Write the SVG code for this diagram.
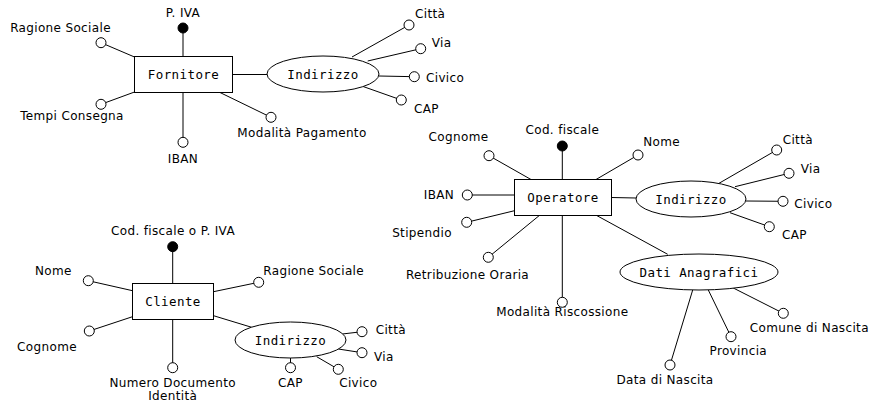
<svg xmlns="http://www.w3.org/2000/svg" width="873" height="404" viewBox="0 0 873 404">
<style>
.bg{fill:#fff}
.c line{stroke:#000;stroke-width:1}
.ent{fill:#fff;stroke:#000;stroke-width:1}
.nt{font-family:"DejaVu Sans Mono","Liberation Mono",monospace;font-size:12.5px;letter-spacing:0.4px;text-anchor:middle;fill:#000}
.lb{font-family:"DejaVu Sans","Noto Sans",sans-serif;font-size:12px;letter-spacing:0.35px;fill:#000}
.m{text-anchor:middle}
.oa{fill:#fff;stroke:#000;stroke-width:1}
.ka{fill:#000;stroke:#000;stroke-width:1}
</style>
<rect class="bg" x="0" y="0" width="873" height="404"/>
<g id="connectors" class="c">
<!-- Fornitore -->
<line x1="183" y1="56.5" x2="183" y2="28"/>
<line x1="134.5" y1="57" x2="101" y2="42.7"/>
<line x1="134.5" y1="92" x2="101" y2="104.3"/>
<line x1="183" y1="92.5" x2="183" y2="142.3"/>
<line x1="220" y1="92.5" x2="271" y2="117.3"/>
<line x1="232.5" y1="74.5" x2="267.5" y2="74.5"/>
<line x1="352" y1="57" x2="409" y2="25"/>
<line x1="367.7" y1="61" x2="420.7" y2="48.7"/>
<line x1="379" y1="76" x2="414.3" y2="76.7"/>
<line x1="361.7" y1="86" x2="401.3" y2="100"/>
<!-- Operatore -->
<line x1="562.3" y1="179.5" x2="562.3" y2="146"/>
<line x1="531" y1="179.5" x2="489" y2="155.7"/>
<line x1="596" y1="179.5" x2="638" y2="155"/>
<line x1="514.5" y1="195" x2="467.3" y2="195"/>
<line x1="514.5" y1="210.7" x2="466.7" y2="222.3"/>
<line x1="539.3" y1="215.5" x2="488.3" y2="257.3"/>
<line x1="562.3" y1="215.5" x2="562.3" y2="302.3"/>
<line x1="611.5" y1="197.5" x2="636" y2="198"/>
<line x1="596.7" y1="215.5" x2="667.7" y2="254.3"/>
<line x1="719" y1="183.3" x2="776.7" y2="150"/>
<line x1="735" y1="186.7" x2="789" y2="173.3"/>
<line x1="746" y1="201" x2="783" y2="201.3"/>
<line x1="730" y1="212.7" x2="769.3" y2="226.7"/>
<line x1="732.7" y1="287.7" x2="783.3" y2="313.3"/>
<line x1="708.3" y1="290" x2="731" y2="336.7"/>
<line x1="692.7" y1="290" x2="670" y2="365"/>
<!-- Cliente -->
<line x1="172.7" y1="283.5" x2="172.7" y2="246.7"/>
<line x1="132.5" y1="290.7" x2="88.3" y2="280.7"/>
<line x1="132.5" y1="316.7" x2="89.3" y2="331"/>
<line x1="172.7" y1="319.5" x2="172.7" y2="367.7"/>
<line x1="213.5" y1="291.7" x2="258.7" y2="282.3"/>
<line x1="213.5" y1="315.7" x2="251.7" y2="327.3"/>
<line x1="342.3" y1="334" x2="362" y2="331.7"/>
<line x1="338.3" y1="349" x2="362" y2="352.7"/>
<line x1="290.5" y1="358" x2="290.5" y2="367.7"/>
<line x1="316.7" y1="356.7" x2="338.3" y2="369.3"/>
</g>

<g id="fornitore">
<rect class="ent" x="134.5" y="56.5" width="98" height="36"/>
<text class="nt" x="183.5" y="79">Fornitore</text>
</g>
<g id="fornitore-piva"><circle class="ka" cx="183" cy="28" r="5"/><text class="lb m" x="183" y="16.5">P. IVA</text></g>
<g id="fornitore-ragione"><circle class="oa" cx="101" cy="42.7" r="5"/><text class="lb m" x="60.5" y="32">Ragione Sociale</text></g>
<g id="fornitore-tempi"><circle class="oa" cx="101" cy="104.3" r="5"/><text class="lb m" x="72" y="120">Tempi Consegna</text></g>
<g id="fornitore-iban"><circle class="oa" cx="183" cy="142.3" r="5"/><text class="lb m" x="183" y="163">IBAN</text></g>
<g id="fornitore-modalita"><circle class="oa" cx="271" cy="117.3" r="5"/><text class="lb m" x="302" y="137">Modalità Pagamento</text></g>
<g id="fornitore-indirizzo">
<ellipse class="ent" cx="323" cy="74" rx="56" ry="18"/>
<text class="nt" x="323" y="78.5">Indirizzo</text>
</g>
<g id="fornitore-citta"><circle class="oa" cx="409" cy="25" r="5"/><text class="lb" x="415" y="18.3">Città</text></g>
<g id="fornitore-via"><circle class="oa" cx="420.7" cy="48.7" r="5"/><text class="lb" x="431.7" y="47.3">Via</text></g>
<g id="fornitore-civico"><circle class="oa" cx="414.3" cy="76.7" r="5"/><text class="lb" x="426" y="81.5">Civico</text></g>
<g id="fornitore-cap"><circle class="oa" cx="401.3" cy="100" r="5"/><text class="lb" x="414" y="113">CAP</text></g>

<g id="operatore">
<rect class="ent" x="514.5" y="179.5" width="97" height="36"/>
<text class="nt" x="563" y="202">Operatore</text>
</g>
<g id="operatore-cf"><circle class="ka" cx="562.3" cy="146" r="5"/><text class="lb m" x="562.3" y="133.5">Cod. fiscale</text></g>
<g id="operatore-cognome"><circle class="oa" cx="489" cy="155.7" r="5"/><text class="lb m" x="458.5" y="141">Cognome</text></g>
<g id="operatore-nome"><circle class="oa" cx="638" cy="155" r="5"/><text class="lb" x="643.3" y="145.5">Nome</text></g>
<g id="operatore-iban"><circle class="oa" cx="467.3" cy="195" r="5"/><text class="lb m" x="439" y="198.5">IBAN</text></g>
<g id="operatore-stipendio"><circle class="oa" cx="466.7" cy="222.3" r="5"/><text class="lb m" x="422" y="237">Stipendio</text></g>
<g id="operatore-retribuzione"><circle class="oa" cx="488.3" cy="257.3" r="5"/><text class="lb m" x="467.5" y="278.5">Retribuzione Oraria</text></g>
<g id="operatore-riscossione"><circle class="oa" cx="562.3" cy="302.3" r="5"/><text class="lb m" x="562.3" y="315.5">Modalità Riscossione</text></g>
<g id="operatore-indirizzo">
<ellipse class="ent" cx="691" cy="199" rx="55" ry="18"/>
<text class="nt" x="691" y="203.5">Indirizzo</text>
</g>
<g id="operatore-citta"><circle class="oa" cx="776.7" cy="150" r="5"/><text class="lb" x="782.7" y="144">Città</text></g>
<g id="operatore-via"><circle class="oa" cx="789" cy="173.3" r="5"/><text class="lb" x="800.7" y="172.5">Via</text></g>
<g id="operatore-civico"><circle class="oa" cx="783" cy="201.3" r="5"/><text class="lb" x="794.3" y="207.5">Civico</text></g>
<g id="operatore-cap"><circle class="oa" cx="769.3" cy="226.7" r="5"/><text class="lb" x="782" y="239">CAP</text></g>
<g id="operatore-dati">
<ellipse class="ent" cx="699" cy="272" rx="79" ry="18"/>
<text class="nt" x="699" y="276.5">Dati Anagrafici</text>
</g>
<g id="dati-comune"><circle class="oa" cx="783.3" cy="313.3" r="5"/><text class="lb m" x="809.3" y="332">Comune di Nascita</text></g>
<g id="dati-provincia"><circle class="oa" cx="731" cy="336.7" r="5"/><text class="lb m" x="738.3" y="355">Provincia</text></g>
<g id="dati-data"><circle class="oa" cx="670" cy="365" r="5"/><text class="lb m" x="665" y="384">Data di Nascita</text></g>

<g id="cliente">
<rect class="ent" x="132.5" y="283.5" width="81" height="36"/>
<text class="nt" x="173" y="306">Cliente</text>
</g>
<g id="cliente-cf"><circle class="ka" cx="172.7" cy="246.7" r="5"/><text class="lb m" x="173" y="235">Cod. fiscale o P. IVA</text></g>
<g id="cliente-nome"><circle class="oa" cx="88.3" cy="280.7" r="5"/><text class="lb m" x="53.3" y="275">Nome</text></g>
<g id="cliente-cognome"><circle class="oa" cx="89.3" cy="331" r="5"/><text class="lb m" x="47" y="351">Cognome</text></g>
<g id="cliente-documento"><circle class="oa" cx="172.7" cy="367.7" r="5"/><text class="lb m" x="172.7" y="386.5">Numero Documento</text><text class="lb m" x="172.7" y="400">Identità</text></g>
<g id="cliente-ragione"><circle class="oa" cx="258.7" cy="282.3" r="5"/><text class="lb" x="263.3" y="274.5">Ragione Sociale</text></g>
<g id="cliente-indirizzo">
<ellipse class="ent" cx="290.5" cy="340" rx="55.5" ry="18"/>
<text class="nt" x="290.5" y="344.5">Indirizzo</text>
</g>
<g id="cliente-citta"><circle class="oa" cx="362" cy="331.7" r="5"/><text class="lb" x="375.7" y="334">Città</text></g>
<g id="cliente-via"><circle class="oa" cx="362" cy="352.7" r="5"/><text class="lb" x="374" y="361">Via</text></g>
<g id="cliente-cap"><circle class="oa" cx="290.5" cy="367.7" r="5"/><text class="lb m" x="290.5" y="386.7">CAP</text></g>
<g id="cliente-civico"><circle class="oa" cx="338.3" cy="369.3" r="5"/><text class="lb m" x="358.3" y="386.7">Civico</text></g>
</svg>
